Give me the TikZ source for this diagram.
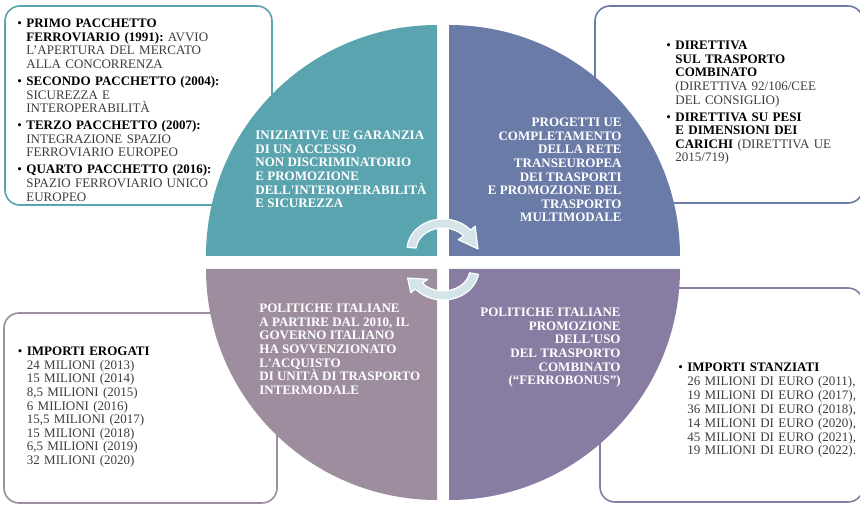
\documentclass[tikz,border=0pt]{standalone}
\usepackage{fontspec}
\setmainfont{Liberation Serif}
\usepackage{tikz}
\usetikzlibrary{calc}
\definecolor{verdeacqua}{RGB}{90,164,175}
\definecolor{ardesia}{RGB}{106,123,168}
\definecolor{malva}{RGB}{157,141,158}
\definecolor{viola}{RGB}{137,124,162}
\definecolor{grigiofreccia}{RGB}{212,228,233}
\definecolor{testogrigio}{RGB}{60,60,60}
\newcommand{\voce}[2]{\par\leftskip=9pt\noindent\llap{\hbox to 9pt{\color{black}\textbullet\hfil}}\textbf{\color{black}#1}#2\par}

\tikzset{
	riquadro/.style={rounded corners=15pt, line width=1.6pt},
	titolo/.style={inner sep=0pt, text=white, font=\fontsize{13}{13.6}\selectfont\bfseries},
	elenco/.style={inner sep=0pt, anchor=north west, text width=#1, align=left, text=testogrigio,
		font=\fontsize{13}{13.6}\selectfont\frenchspacing, execute at begin node={\setlength{\parskip}{3.4pt}}},
	elenco/.default=250pt,
	freccia/.style={fill=grigiofreccia, draw=white, line width=1.2pt, line join=round}
}

\begin{document}
\begin{tikzpicture}[x=1pt,y=1pt,thick]
		%%Location
		\clip (0,0) rectangle (860,504);
		%%Boxes
		\draw[riquadro, verdeacqua] (5,299) rectangle (272,498);
		\draw[riquadro, ardesia] (595,301) rectangle (863,498);
		\draw[riquadro, malva] (4,1) rectangle (277,191);
		\draw[riquadro, viola] (600,2) rectangle (863,216);
		%%Quadrants
		\fill[verdeacqua] (437,248) -- (206,248) arc[start angle=180, end angle=90, radius=231] -- cycle;
		\fill[ardesia] (449,248) -- (449,479) arc[start angle=90, end angle=0, radius=231] -- cycle;
		\fill[malva] (437,235) -- (437,4) arc[start angle=270, end angle=180, radius=231] -- cycle;
		\fill[viola] (449,235) -- (680,235) arc[start angle=0, end angle=-90, radius=231] -- cycle;
		%%Arrows
		\coordinate (ca) at (443,254);
		\coordinate (cb) at (443,235);
		\filldraw[freccia] ([shift={(175:36 and 31)}]ca) arc[start angle=175, end angle=40, x radius=36, y radius=31]
			-- ([shift={(40:42 and 37)}]ca) -- ([shift={(2:35 and 30)}]ca) -- ([shift={(40:20 and 16)}]ca)
			-- ([shift={(40:27 and 22)}]ca) arc[start angle=40, end angle=175, x radius=27, y radius=22] -- cycle;
		\filldraw[freccia] ([shift={(-10:36 and 31)}]cb) arc[start angle=-10, end angle=-140, x radius=36, y radius=31]
			-- ([shift={(-140:42 and 37)}]cb) -- ([shift={(197:37 and 31)}]cb) -- ([shift={(-140:20 and 16)}]cb)
			-- ([shift={(-140:27 and 22)}]cb) arc[start angle=-140, end angle=-10, x radius=27, y radius=22] -- cycle;
		
		%%Label
		\node[titolo, anchor=north west, align=left] (iniziative) at (255,373.4)
			{INIZIATIVE UE GARANZIA\\DI UN ACCESSO\\NON DISCRIMINATORIO\\E PROMOZIONE\\DELL\textquotesingle INTEROPERABILITÀ\\E SICUREZZA};
		\node[titolo, anchor=north east, align=right] (progetti) at (622,386.4)
			{PROGETTI UE\\COMPLETAMENTO\\DELLA RETE\\TRANSEUROPEA\\DEI TRASPORTI\\E PROMOZIONE DEL\\TRASPORTO\\MULTIMODALE};
		\node[titolo, anchor=north west, align=left] (sovvenzioni) at (259,200.4)
			{POLITICHE ITALIANE\\A PARTIRE DAL 2010, IL\\GOVERNO ITALIANO\\HA SOVVENZIONATO\\L\textquotesingle ACQUISTO\\DI UNITÀ DI TRASPORTO\\INTERMODALE};
		\node[titolo, anchor=north east, align=right] (ferrobonus) at (621,196.4)
			{POLITICHE ITALIANE\\PROMOZIONE\\DELL\textquotesingle USO\\DEL TRASPORTO\\COMBINATO\\(“FERROBONUS”)};
		
		%%Lists
		\node[elenco] (pacchetti) at (17,493.6) {%
			\voce{PRIMO PACCHETTO\\FERROVIARIO (1991):}{ AVVIO\\L’APERTURA DEL MERCATO\\ALLA CONCORRENZA}
			\voce{SECONDO PACCHETTO (2004):}{\\SICUREZZA E\\INTEROPERABILITÀ}
			\voce{TERZO PACCHETTO (2007):}{\\INTEGRAZIONE SPAZIO\\FERROVIARIO EUROPEO}
			\voce{QUARTO PACCHETTO (2016):}{\\SPAZIO FERROVIARIO UNICO\\EUROPEO}};
		\node[elenco=185pt] (direttive) at (666,471.6) {%
			\voce{DIRETTIVA\\SUL TRASPORTO\\COMBINATO}{\\(DIRETTIVA 92/106/CEE\\DEL CONSIGLIO)}
			\voce{DIRETTIVA SU PESI\\E DIMENSIONI DEI\\CARICHI}{ (DIRETTIVA UE\\2015/719)}};
		\node[elenco] (erogati) at (17.5,165.6) {%
			\voce{IMPORTI EROGATI}{\\24 MILIONI (2013)\\15 MILIONI (2014)\\8,5 MILIONI (2015)\\6 MILIONI (2016)\\15,5 MILIONI (2017)\\15 MILIONI (2018)\\6,5 MILIONI (2019)\\32 MILIONI (2020)}};
		\node[elenco=180pt, font=\fontsize{13}{13.9}\selectfont] (stanziati) at (678,150.2) {%
			\voce{IMPORTI STANZIATI}{\\26 MILIONI DI EURO (2011),\\19 MILIONI DI EURO (2017),\\36 MILIONI DI EURO (2018),\\14 MILIONI DI EURO (2020),\\45 MILIONI DI EURO (2021),\\19 MILIONI DI EURO (2022).}};
\end{tikzpicture}
\end{document}
